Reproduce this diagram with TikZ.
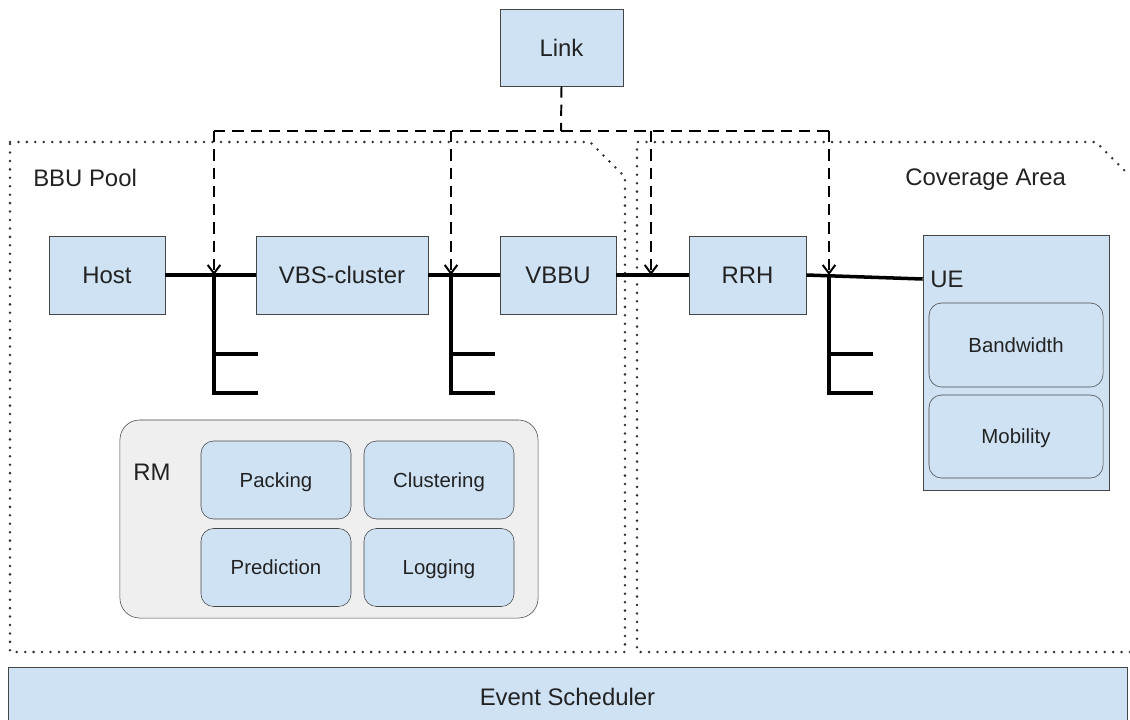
\documentclass[tikz,border=0pt]{standalone}
\usepackage{fontspec}
\setmainfont{Liberation Sans}
\usetikzlibrary{arrows.meta,positioning}

\definecolor{boxblue}{RGB}{207,226,243}
\definecolor{edgegray}{RGB}{70,70,70}
\definecolor{rmgray}{RGB}{239,239,239}
\definecolor{inkgray}{RGB}{34,34,34}

\begin{document}
\begin{tikzpicture}[
  x=0.025cm, y=-0.025cm,
  blk/.style={draw=edgegray, fill=boxblue, thin, inner sep=2pt,
              text height=12.2pt, text depth=0pt,
              align=center, text=inkgray, font=\fontsize{17}{20}\selectfont},
  sub/.style={blk, rounded corners=9pt, text height=10.4pt,
              font=\fontsize{14.5}{17}\selectfont},
  lbl/.style={text=inkgray, font=\fontsize{17}{20}\selectfont, inner sep=0pt, anchor=west},
  wire/.style={line width=2.5pt, black},
  lnk/.style={line width=1.4pt, black, dash pattern=on 8pt off 5pt,
              -{Straight Barb[length=6pt,width=9pt]}},
  zone/.style={black!80, line width=2pt, line cap=round, dash pattern=on 0pt off 6pt},
]
  \useasboundingbox (0,0) rectangle (1130,719);

  %% dotted areas
  \draw[zone] (10,142) -- (590,142) -- (625,177) -- (625,652) -- (10,652) -- cycle;
  \draw[zone] (1130,652) -- (637,652) -- (637,142) -- (1096,142) -- (1130,176);
  \node[lbl] (bbulbl) at (33,178) {BBU Pool};
  \node[lbl] (covlbl) at (905,180) {Coverage Area};

  %% Link — top centre
  \node[blk, minimum width=3.075cm, minimum height=1.925cm] (link) at (561.5,47.5) {Link};

  %% main row
  \node[blk, minimum width=2.9cm,  minimum height=1.95cm] (host) at (107,275)   {Host};
  \node[blk, minimum width=4.3cm,  minimum height=1.95cm] (vbs)  at (342,275)   {VBS-cluster};
  \node[blk, minimum width=2.9cm,  minimum height=1.95cm] (vbbu) at (558,275)   {VBBU};
  \node[blk, minimum width=2.925cm, minimum height=1.95cm] (rrh) at (747.5,275) {RRH};

  %% UE — right
  \node[blk, minimum width=4.65cm, minimum height=6.375cm] (ue) at (1016,362.5) {};
  \node[lbl] (uelbl) at (930,279) {UE};
  \node[sub, minimum width=4.35cm, minimum height=2.1cm]   (bw)  at (1016,345)   {Bandwidth};
  \node[sub, minimum width=4.35cm, minimum height=2.075cm] (mob) at (1016,436.5) {Mobility};

  %% RM — bottom left
  \node[draw=edgegray, thin, fill=rmgray, rounded corners=14pt,
        minimum width=10.45cm, minimum height=4.95cm] (rm) at (329,519) {};
  \node[lbl] (rmlbl) at (133,472) {RM};
  \node[sub, minimum width=3.75cm, minimum height=1.95cm] (pack) at (276,480)   {Packing};
  \node[sub, minimum width=3.75cm, minimum height=1.95cm] (clus) at (439,480)   {Clustering};
  \node[sub, minimum width=3.75cm, minimum height=1.95cm] (pred) at (276,567.5) {Prediction};
  \node[sub, minimum width=3.75cm, minimum height=1.95cm] (logg) at (439,567.5) {Logging};

  %% Event Scheduler — bottom
  \node[blk, minimum width=27.975cm, minimum height=1.5cm] (evs) at (567.5,697) {Event Scheduler};

  %% links between the row
  \coordinate (j1) at (214,275);
  \coordinate (j2) at (451,275);
  \coordinate (j3) at (651,275);
  \coordinate (j4) at (829,275);
  \draw[wire] (host) -- (vbs);
  \draw[wire] (vbs) -- (vbbu);
  \draw[wire] (vbbu) -- (rrh);
  \draw[wire] (rrh.east) -- (ue.west |- uelbl);
  \foreach \j in {j1,j2,j4}
    \draw[wire] (\j) -- ++(0,118) -- ++(44,0) (\j) ++(0,79) -- ++(44,0);

  %% dashed feed from Link
  \coordinate (bus) at (561,131);
  \draw[lnk, -] (link.south) -- (bus);
  \draw[lnk, -] (j1 |- bus) -- (j4 |- bus);
  \foreach \j in {j1,j2,j3,j4}
    \draw[lnk] (\j |- bus) -- (\j);
\end{tikzpicture}
\end{document}
